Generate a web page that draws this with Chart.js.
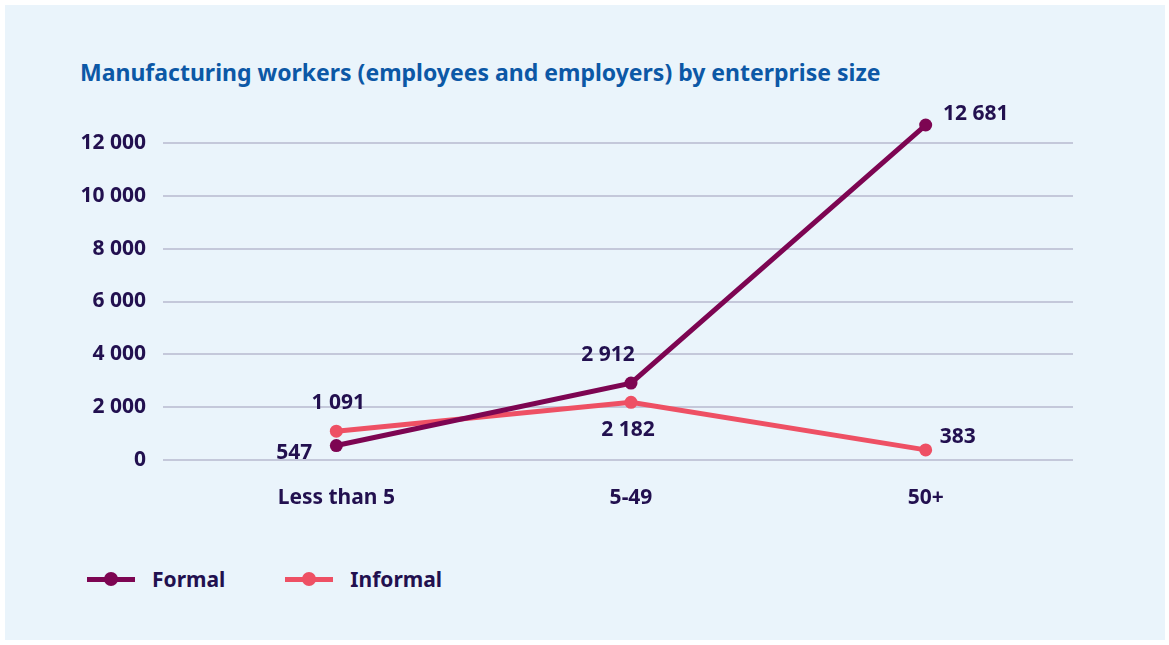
<!DOCTYPE html>
<html>
<head>
<meta charset="utf-8">
<script src="https://cdn.jsdelivr.net/npm/chart.js@4.4.1/dist/chart.umd.min.js"></script>
<style>
  html, body {
    margin: 0;
    padding: 0;
    background: #ffffff;
    font-family: "Noto Sans", sans-serif;
  }
  #panel {
    position: absolute;
    left: 5px;
    top: 5px;
    width: 1160px;
    height: 635px;
    background: #eaf4fb;
  }
  #title {
    position: absolute;
    left: 75px;
    top: 51px;
    margin: 0;
    font-size: 23px;
    font-weight: 700;
    color: #0c58a6;
    white-space: nowrap;
  }
  #chartBox {
    position: absolute;
    left: 55px;
    top: 90px;
    width: 1040px;
    height: 420px;
  }
  #legend {
    position: absolute;
    left: 82px;
    top: 560px;
    display: flex;
    align-items: center;
  }
  .item {
    display: flex;
    align-items: center;
    margin-right: 60px;
    font-size: 21px;
    font-weight: 700;
    color: #22104f;
  }
  .swatch {
    position: relative;
    width: 48px;
    height: 5px;
    margin-right: 17px;
  }
  .swatch::after {
    content: "";
    position: absolute;
    left: 17px;
    top: -4.5px;
    width: 14px;
    height: 14px;
    border-radius: 50%;
    background: inherit;
  }
</style>
</head>
<body>
<div id="panel">
  <h1 id="title">Manufacturing workers (employees and employers) by enterprise size</h1>
  <div id="chartBox"><canvas id="myChart"></canvas></div>
  <div id="legend"></div>
</div>
<script>
const categories = ["Less than 5", "5-49", "50+"];
const formalValues = [547, 2912, 12681];
const informalValues = [1091, 2182, 383];
const yTicks = [0, 2000, 4000, 6000, 8000, 10000, 12000];

const FORMAL_COLOR = "#7d0552";
const INFORMAL_COLOR = "#ee5064";
const TEXT_COLOR = "#22104f";

// 12681 -> "12 681"
const fmt = (v) => v.toString().replace(/\B(?=(\d{3})+(?!\d))/g, " ");

// writes each point's value next to it, offset per point
const valueLabels = {
  id: "valueLabels",
  afterDatasetsDraw(chart) {
    const ctx = chart.ctx;
    ctx.save();
    ctx.font = "700 21px 'Noto Sans', sans-serif";
    ctx.fillStyle = TEXT_COLOR;
    ctx.textAlign = "center";
    ctx.textBaseline = "middle";
    chart.data.datasets.forEach((ds, i) => {
      const meta = chart.getDatasetMeta(i);
      meta.data.forEach((pt, j) => {
        const off = ds.labelOffsets[j];
        ctx.fillText(fmt(ds.data[j]), pt.x + off[0], pt.y + off[1]);
      });
    });
    ctx.restore();
  },
};

const datasets = [
  {
    label: "Formal",
    data: formalValues,
    borderColor: FORMAL_COLOR,
    backgroundColor: FORMAL_COLOR,
    labelOffsets: [[-42, 7], [-23, -28], [50, -11]],
  },
  {
    label: "Informal",
    data: informalValues,
    borderColor: INFORMAL_COLOR,
    backgroundColor: INFORMAL_COLOR,
    labelOffsets: [[2, -28], [-3, 28], [32, -13]],
  },
];

const config = {
  type: "line",
  data: {
    labels: categories,
    datasets: datasets.map((d) => ({
      ...d,
      borderWidth: 5,
      pointRadius: 6.5,
      pointHoverRadius: 6.5,
      pointBorderWidth: 0,
      tension: 0,
      clip: false,
    })),
  },
  options: {
    responsive: true,
    maintainAspectRatio: false,
    animation: false,
    layout: {
      padding: { top: 21.6, right: 27, left: 0, bottom: 0 },
    },
    plugins: {
      legend: { display: false },
      tooltip: { enabled: false },
    },
    scales: {
      x: {
        offset: true,
        border: { display: false },
        grid: { display: false, drawTicks: false },
        ticks: {
          color: TEXT_COLOR,
          padding: 25,
          font: { size: 21, weight: "700" },
        },
        afterFit: (scale) => {
          scale.height = 55;
        },
      },
      y: {
        min: 0,
        max: 13000,
        border: { display: false },
        grid: {
          color: "#c4c8da",
          lineWidth: 2,
          tickLength: 26,
        },
        ticks: {
          stepSize: 2000,
          color: TEXT_COLOR,
          padding: 17,
          font: { size: 21, weight: "700" },
          callback: (v) => fmt(v),
        },
        afterBuildTicks: (scale) => {
          scale.ticks = yTicks.map((v) => ({ value: v }));
        },
        afterFit: (scale) => {
          scale.width = 129;
          scale.paddingTop = 0;
          scale.paddingBottom = 0;
        },
      },
    },
  },
  plugins: [valueLabels],
};

Chart.defaults.font.family = "'Noto Sans', sans-serif";
const myChart = new Chart(document.getElementById("myChart"), config);

// legend: line with a dot, then the series name
let list = ``;
datasets.map((item) => {
  list += `<div class="item"><span class="swatch" style="background:${item.borderColor}"></span>${item.label}</div>`;
});
document.getElementById("legend").innerHTML = list;
</script>
</body>
</html>
